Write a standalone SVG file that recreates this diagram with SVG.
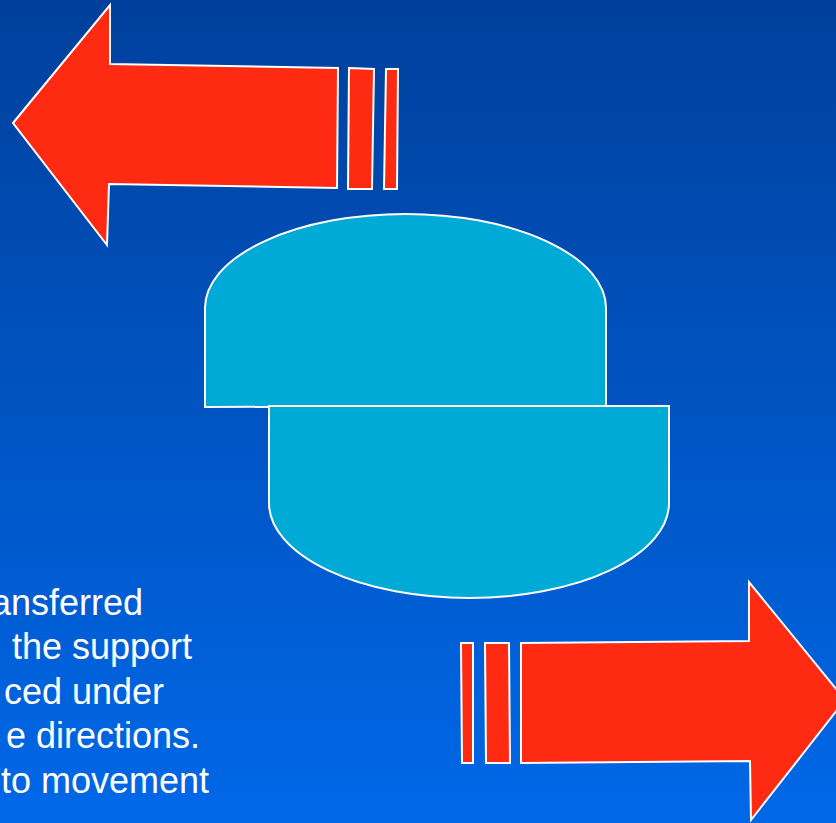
<svg xmlns="http://www.w3.org/2000/svg" width="836" height="823" viewBox="0 0 836 823">
  <defs>
    <linearGradient id="bg" x1="0" y1="0" x2="0" y2="1">
      <stop offset="0" stop-color="#00409C"/>
      <stop offset="1" stop-color="#0068E8"/>
    </linearGradient>
  </defs>
  <style>
    .arrow { fill: #FF2A12; stroke: #FFFFFF; stroke-width: 2; stroke-linejoin: miter; }
    .puck { fill: #00AAD6; stroke: #FFFFFF; stroke-width: 2; }
    .txt { fill: #FFFFFF; font-family: "Liberation Sans", Arial, sans-serif; font-size: 36px; }
  </style>
  <rect x="0" y="0" width="836" height="823" fill="url(#bg)"/>
  <g id="left-arrow">
    <polygon class="arrow" points="13,123 110,5 110,64 338,68 337,188 109,184 107,245"/>
    <polygon class="arrow" points="349,68 374,69 372,189 348,189"/>
    <polygon class="arrow" points="386,69 398,69 397,189 384,189"/>
  </g>
  <g id="upper-block">
    <path class="puck" d="M205,407 L205,308 A200.5,94 0 0 1 606,308 L606,406 Z"/>
  </g>
  <g id="lower-block">
    <path class="puck" d="M269,406 L669,406 L669,503 A200,95 0 0 1 269,503 Z"/>
  </g>
  <g id="right-arrow">
    <polygon class="arrow" points="461,643 473,643 473,763 462,763"/>
    <polygon class="arrow" points="485,643 509,643 510,763 486,763"/>
    <polygon class="arrow" points="521,643 749,641 749,582 845,700 751,820 750,761 521,763"/>
  </g>
  <g id="caption">
    <text class="txt" x="143" y="615" text-anchor="end">ansferred</text>
    <text class="txt" x="192" y="659" text-anchor="end">the support</text>
    <text class="txt" x="164" y="704" text-anchor="end">ced under</text>
    <text class="txt" x="200" y="748" text-anchor="end">e directions.</text>
    <text class="txt" x="209" y="793" text-anchor="end">to movement</text>
  </g>
  <g id="connectors"/>
</svg>
